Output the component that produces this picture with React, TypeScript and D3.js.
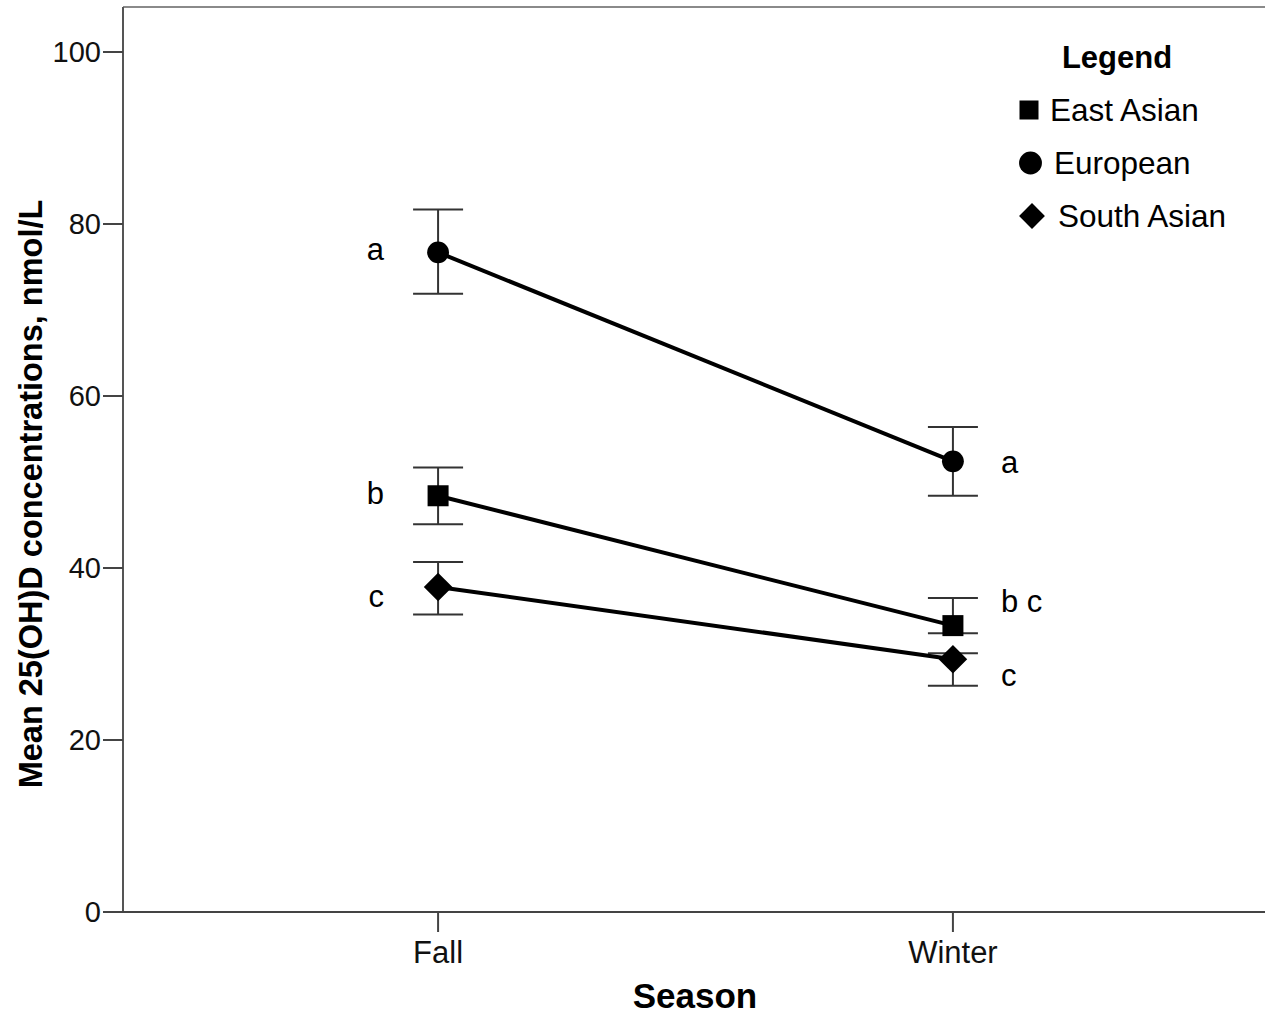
import React from "react";
import * as d3 from "d3";

const seasons = ["Fall", "Winter"];
const groups = ["East Asian", "European", "South Asian"];
const groupShapes = ["square", "circle", "diamond"];
const meanEastAsian = [48.4, 33.3];
const lowEastAsian = [45.1, 32.4];
const highEastAsian = [51.7, 36.5];
const meanEuropean = [76.7, 52.4];
const lowEuropean = [71.9, 48.4];
const highEuropean = [81.7, 56.4];
const meanSouthAsian = [37.8, 29.4];
const lowSouthAsian = [34.6, 26.3];
const highSouthAsian = [40.7, 30.1];
const yTicks = [0, 20, 40, 60, 80, 100];
// significance letters: season, text, vertical anchor in data units
const sigSeason = ["Fall", "Fall", "Fall", "Winter", "Winter", "Winter"];
const sigText = ["a", "b", "c", "a", "b c", "c"];
const sigValue = [75.8, 47.4, 35.5, 51.0, 34.9, 26.3];

const W = 1265;
const H = 1014;
const FONT = "'Liberation Sans', Arial, sans-serif";

function Marker({ shape, x, y, s }: { shape: string; x: number; y: number; s: number }) {
  if (shape === "circle") return <circle cx={x} cy={y} r={s * 0.52} fill="#000" />;
  if (shape === "square")
    return <rect x={x - s / 2} y={y - s / 2} width={s} height={s} fill="#000" />;
  const h = s * 0.68;
  return <path d={`M${x},${y - h}L${x + h},${y}L${x},${y + h}L${x - h},${y}Z`} fill="#000" />;
}

export default function App() {
  const left = 123;
  const top = 7;
  const bottom = 912;
  const x = d3.scalePoint<string>().domain(seasons).range([left, 1268]).padding(0.612);
  const y = d3.scaleLinear().domain([0, 100]).range([bottom, 52]);

  const series = [
    { mean: meanEastAsian, low: lowEastAsian, high: highEastAsian },
    { mean: meanEuropean, low: lowEuropean, high: highEuropean },
    { mean: meanSouthAsian, low: lowSouthAsian, high: highSouthAsian },
  ];
  const line = d3
    .line<number>()
    .x((_, i) => x(seasons[i])!)
    .y((d) => y(d));

  return (
    <svg
      width={W}
      height={H}
      style={{ position: "absolute", left: 0, top: 0, background: "#fff" }}
      fontFamily={FONT}
    >
      <rect x={0} y={0} width={W} height={H} fill="#fff" />
      {/* frame */}
      <line x1={left} x2={W} y1={top} y2={top} stroke="#8a8a8a" strokeWidth={2} />
      <line x1={left} x2={left} y1={top} y2={bottom} stroke="#555" strokeWidth={2} />
      <line x1={left} x2={W} y1={bottom} y2={bottom} stroke="#444" strokeWidth={2} />
      {/* y ticks */}
      {yTicks.map((t) => (
        <g key={t}>
          <line x1={left - 20} x2={left} y1={y(t)} y2={y(t)} stroke="#444" strokeWidth={2} />
          <text x={left - 22} y={y(t)} dy="0.35em" textAnchor="end" fontSize={29} fill="#111">
            {t}
          </text>
        </g>
      ))}
      {/* x ticks */}
      {seasons.map((s) => (
        <g key={s}>
          <line x1={x(s)} x2={x(s)} y1={bottom} y2={bottom + 20} stroke="#444" strokeWidth={2} />
          <text x={x(s)} y={963} textAnchor="middle" fontSize={31} fill="#111">
            {s}
          </text>
        </g>
      ))}
      {/* axis titles */}
      <text x={695} y={1008} textAnchor="middle" fontSize={35} fontWeight="bold" fill="#000">
        Season
      </text>
      <text
        transform={`translate(42,494) rotate(-90)`}
        textAnchor="middle"
        fontSize={32.5}
        fontWeight="bold"
        fill="#000"
      >
        Mean 25(OH)D concentrations, nmol/L
      </text>
      {/* error bars */}
      {series.map((sr, gi) =>
        seasons.map((s, i) => (
          <g key={`${gi}-${i}`} stroke="#333" strokeWidth={2}>
            <line x1={x(s)} x2={x(s)} y1={y(sr.low[i])} y2={y(sr.high[i])} />
            <line x1={x(s)! - 25} x2={x(s)! + 25} y1={y(sr.low[i])} y2={y(sr.low[i])} />
            <line x1={x(s)! - 25} x2={x(s)! + 25} y1={y(sr.high[i])} y2={y(sr.high[i])} />
          </g>
        ))
      )}
      {/* lines */}
      {series.map((sr, gi) => (
        <path key={gi} d={line(sr.mean)!} fill="none" stroke="#000" strokeWidth={4} />
      ))}
      {/* markers */}
      {series.map((sr, gi) =>
        sr.mean.map((v, i) => (
          <Marker key={`${gi}-${i}`} shape={groupShapes[gi]} x={x(seasons[i])!} y={y(v)} s={21} />
        ))
      )}
      {/* significance letters */}
      {sigText.map((t, i) => {
        const isFall = sigSeason[i] === "Fall";
        const px = x(sigSeason[i])!;
        return (
          <text
            key={i}
            x={isFall ? px - 54 : px + 48}
            y={y(sigValue[i])}
            textAnchor={isFall ? "end" : "start"}
            fontSize={31}
            fill="#000"
          >
            {t}
          </text>
        );
      })}
      {/* legend */}
      <text x={1117} y={68} textAnchor="middle" fontSize={31} fontWeight="bold" fill="#000">
        Legend
      </text>
      {groups.map((g, i) => (
        <g key={g}>
          <Marker
            shape={groupShapes[i]}
            x={1029 + i * 1.5}
            y={110 + i * 53}
            s={groupShapes[i] === "square" ? 19 : groupShapes[i] === "circle" ? 22 : 19}
          />
          <text x={1050 + i * 4} y={121 + i * 53} fontSize={31.5} fill="#000">
            {g}
          </text>
        </g>
      ))}
    </svg>
  );
}
